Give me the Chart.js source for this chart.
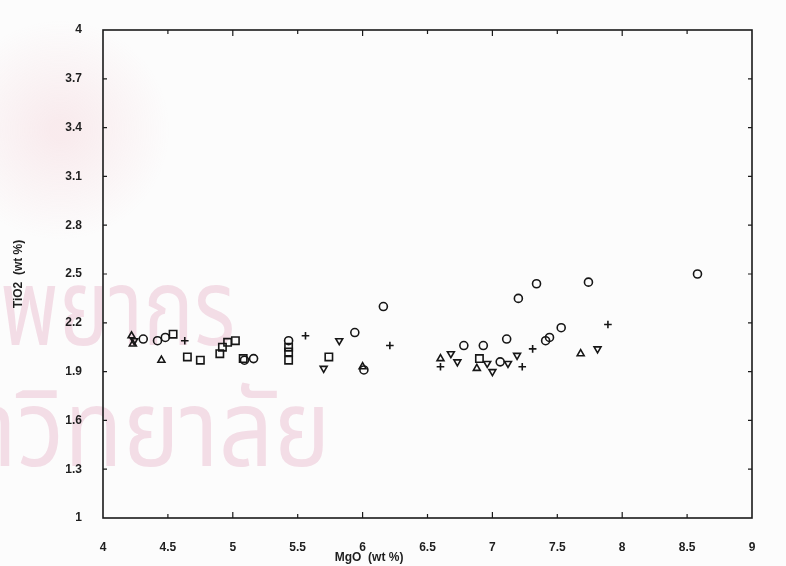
<!DOCTYPE html>
<html>
<head>
<meta charset="utf-8">
<script src="https://cdn.jsdelivr.net/npm/chart.js"></script>
<style>
  body { margin: 0; background: #fcfcfc; }
  canvas { display: block; }
</style>
</head>
<body>
<canvas id="grafica" width="786" height="566"></canvas>
<script>
// MgO vs TiO2 (wt %), one array pair per symbol group
const circuloX = [4.31, 4.42, 4.48, 5.09, 5.16, 5.43, 5.94, 6.16, 6.01, 6.78, 6.93, 7.06, 7.11, 7.20, 7.34, 7.41, 7.44, 7.53, 7.74, 8.58];
const circuloY = [2.10, 2.09, 2.11, 1.97, 1.98, 2.09, 2.14, 2.30, 1.91, 2.06, 2.06, 1.96, 2.10, 2.35, 2.44, 2.09, 2.11, 2.17, 2.45, 2.50];

const cuadroX = [4.54, 4.65, 4.75, 4.90, 4.92, 4.96, 5.02, 5.08, 5.43, 5.43, 5.43, 5.74, 6.90];
const cuadroY = [2.13, 1.99, 1.97, 2.01, 2.05, 2.08, 2.09, 1.98, 2.05, 2.02, 1.97, 1.99, 1.98];

const trianguloX = [4.22, 4.23, 4.45, 6.00, 6.60, 6.88, 7.68];
const trianguloY = [2.12, 2.07, 1.97, 1.93, 1.98, 1.92, 2.01];

const invertidoX = [4.24, 5.70, 5.82, 6.68, 6.73, 6.96, 7.00, 7.12, 7.19, 7.81];
const invertidoY = [2.09, 1.92, 2.09, 2.01, 1.96, 1.95, 1.90, 1.95, 2.00, 2.04];

const cruzX = [4.63, 5.56, 6.21, 6.60, 7.23, 7.31, 7.89];
const cruzY = [2.09, 2.12, 2.06, 1.93, 1.93, 2.04, 2.19];

const ticksX = [4, 4.5, 5, 5.5, 6, 6.5, 7, 7.5, 8, 8.5, 9];
const ticksY = [1, 1.3, 1.6, 1.9, 2.2, 2.5, 2.8, 3.1, 3.4, 3.7, 4];

const tituloX = "MgO  (wt %)";
const tituloY = "TiO2  (wt %)";

function puntos(xs, ys) {
  return xs.map((x, i) => ({ x: x, y: ys[i] }));
}

function serie(nombre, xs, ys, estilo, radio, rotacion) {
  return {
    label: nombre,
    data: puntos(xs, ys),
    pointStyle: estilo,
    pointRadius: radio,
    pointRotation: rotacion || 0,
    borderColor: "#161616",
    backgroundColor: "rgba(255,255,255,0)",
    borderWidth: 1.6,
  };
}

// marca de agua rosa detrás del gráfico
const marcaAgua = {
  id: "marcaAgua",
  beforeDraw(chart) {
    const ctx = chart.ctx;
    ctx.save();
    // sello claro arriba a la izquierda
    const g = ctx.createRadialGradient(60, 130, 10, 60, 130, 110);
    g.addColorStop(0, "rgba(235, 150, 165, 0.16)");
    g.addColorStop(1, "rgba(235, 150, 165, 0)");
    ctx.fillStyle = g;
    ctx.fillRect(0, 0, 200, 260);

    ctx.fillStyle = "rgba(205, 90, 140, 0.19)";
    ctx.font = "96px 'Noto Sans Thai', 'Noto Sans', sans-serif";
    ctx.textBaseline = "alphabetic";
    ctx.setTransform(0.88, 0, 0, 1.12, 0, 0);
    ctx.fillText("พยากร", 0, 345 / 1.12);
    ctx.setTransform(1.0, 0, 0, 1.12, 0, 0);
    ctx.fillText("าวิทยาลัย", -22, 466 / 1.12);
    ctx.restore();
  },
};

// marco, marcas de escala hacia adentro y título del eje x
const marco = {
  id: "marco",
  afterDraw(chart) {
    const ctx = chart.ctx;
    const a = chart.chartArea;
    const sx = chart.scales.x;
    const sy = chart.scales.y;
    ctx.save();
    ctx.strokeStyle = "#1a1a1a";
    ctx.lineWidth = 1.6;
    ctx.strokeRect(a.left, a.top, a.right - a.left, a.bottom - a.top);
    ctx.lineWidth = 1.2;
    ctx.beginPath();
    sx.ticks.forEach((t, i) => {
      if (i === 0 || i === sx.ticks.length - 1) return;
      const px = sx.getPixelForValue(t.value);
      const largo = Number.isInteger(t.value) ? 6 : 4;
      ctx.moveTo(px, a.bottom);
      ctx.lineTo(px, a.bottom - largo);
      ctx.moveTo(px, a.top);
      ctx.lineTo(px, a.top + largo);
    });
    sy.ticks.forEach((t, i) => {
      if (i === 0 || i === sy.ticks.length - 1) return;
      const py = sy.getPixelForValue(t.value);
      ctx.moveTo(a.left, py);
      ctx.lineTo(a.left + 4, py);
      ctx.moveTo(a.right, py);
      ctx.lineTo(a.right - 4, py);
    });
    ctx.stroke();

    ctx.fillStyle = "#1e1e1e";
    ctx.font = "bold 12px 'Liberation Sans', Arial, sans-serif";
    ctx.textAlign = "center";
    ctx.textBaseline = "middle";
    ctx.fillText(tituloX, sx.getPixelForValue(6.05), 558);
    ctx.restore();
  },
};

const fuenteTicks = { family: "'Liberation Sans', Arial, sans-serif", size: 12, weight: "bold" };
const fuenteTitulo = { family: "'Liberation Sans', Arial, sans-serif", size: 12, weight: "bold" };

new Chart(document.getElementById("grafica"), {
  type: "scatter",
  data: {
    datasets: [
      serie("circulo", circuloX, circuloY, "circle", 4),
      serie("cuadro", cuadroX, cuadroY, "rect", 5.2),
      serie("triangulo", trianguloX, trianguloY, "triangle", 4),
      serie("invertido", invertidoX, invertidoY, "triangle", 4, 180),
      serie("cruz", cruzX, cruzY, "cross", 3.8),
    ],
  },
  options: {
    responsive: false,
    animation: false,
    layout: { padding: { left: 0, right: 34, top: 30, bottom: 0 } },
    plugins: {
      legend: { display: false },
      tooltip: { enabled: false },
    },
    scales: {
      x: {
        type: "linear",
        min: 4,
        max: 9,
        afterBuildTicks: (s) => { s.ticks = ticksX.map((v) => ({ value: v })); },
        afterFit: (s) => { s.height = 48; },
        grid: { display: false, drawTicks: false },
        border: { display: false },
        ticks: {
          color: "#1e1e1e",
          font: fuenteTicks,
          padding: 22,
          maxRotation: 0,
          callback: (v) => String(v),
        },
      },
      y: {
        type: "linear",
        min: 1,
        max: 4,
        afterBuildTicks: (s) => { s.ticks = ticksY.map((v) => ({ value: v })); },
        afterFit: (s) => { s.width = 103; },
        grid: { display: false, drawTicks: false },
        border: { display: false },
        ticks: {
          color: "#1e1e1e",
          font: fuenteTicks,
          padding: 21,
          callback: (v) => String(v),
        },
        title: {
          display: true,
          text: tituloY,
          color: "#1e1e1e",
          font: fuenteTitulo,
          padding: { top: 11, bottom: 0 },
        },
      },
    },
  },
  plugins: [marcaAgua, marco],
});
</script>
</body>
</html>
